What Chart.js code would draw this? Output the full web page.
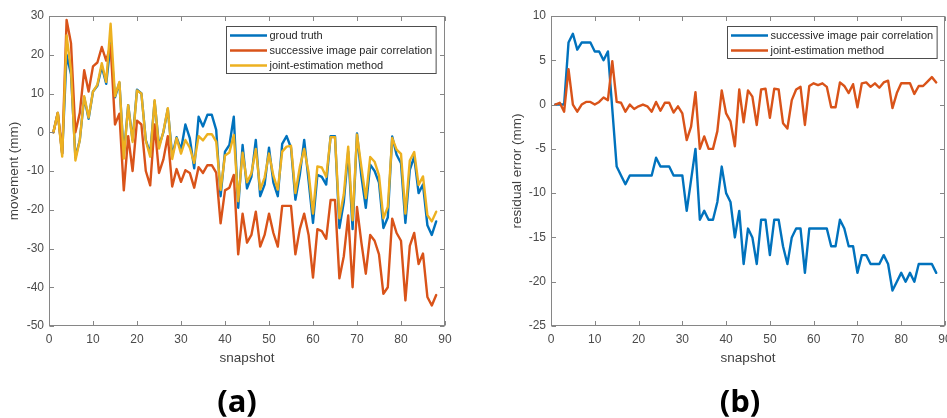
<!DOCTYPE html>
<html>
<head>
<meta charset="utf-8">
<script src="https://cdn.jsdelivr.net/npm/chart.js@4.4.1/dist/chart.umd.min.js"></script>
<style>
  html, body { margin: 0; padding: 0; background: #fff; }
  #page { position: relative; width: 947px; height: 418px; overflow: hidden; background: #fff; }
  canvas { position: absolute; top: 0; }
  #panelA { left: 0; }
  #panelB { left: 474px; }
  .tag { position: absolute; top: 385px; font: bold 31px "Open Sans", sans-serif; line-height: 31px;
         color: #000; transform: translateX(-50%); white-space: nowrap; }
</style>
</head>
<body>
<div id="page">
  <canvas id="panelA" width="474" height="418"></canvas>
  <canvas id="panelB" width="473" height="418"></canvas>
  <div class="tag" style="left:237px">(a)</div>
  <div class="tag" style="left:740px">(b)</div>
</div>
<script>
// Snapshot index shared by every series
const snapshots = [
  1, 2, 3, 4, 5, 6, 7, 8, 9, 10, 11, 12, 13, 14, 15, 16, 17, 18, 19, 20,
  21, 22, 23, 24, 25, 26, 27, 28, 29, 30, 31, 32, 33, 34, 35, 36, 37, 38, 39, 40,
  41, 42, 43, 44, 45, 46, 47, 48, 49, 50, 51, 52, 53, 54, 55, 56, 57, 58, 59, 60,
  61, 62, 63, 64, 65, 66, 67, 68, 69, 70, 71, 72, 73, 74, 75, 76, 77, 78, 79, 80,
  81, 82, 83, 84, 85, 86, 87, 88
];

// (a) movement in mm
const groundTruth = [
  0, 5, -5.5, 20, 15, -6.5, -2, 9, 3.5, 10.5,
  12, 17, 12.5, 23, 9, 12.8, -6, 7, -2, 11,
  10, -2, -5.5, 8, -3.5, 0, 6, -6, -1.3, -4.5,
  2, -1.5, -9.3, 4, 1.5, 4.5, 4.5, 0.6, -16.5, -5,
  -3.3, 4, -19.5, -3.3, -14.5, -11.5, -2, -16.5, -13.5, -4,
  -13, -16.5, -3, -1, -4, -17.4, -11, -2, -12.5, -23.4,
  -11, -11.5, -13.5, -1, -1, -24.7, -18, -5, -25, -0.3,
  -11.4, -19.5, -8.4, -10, -13, -24.7, -22, -1.1, -5.8, -8,
  -23.4, -9.7, -6.3, -15.7, -13.5, -24, -26.5, -23
];
const successivePair = [
  0, 5, -5.5, 29, 23, 0, 5, 16, 10.5, 17,
  18, 22, 18.5, 22.5, 2, 4.8, -15, -1, -10, 3,
  2, -10, -13.7, 2, -10.5, -7, -1, -14, -9.5, -12.8,
  -9.8, -10.5, -14.3, -9, -10.5, -8.5, -8.5, -10.4, -23.5, -15,
  -14.3, -11, -31.5, -21, -28.5, -26.5, -20.5, -29.5, -26.5, -21,
  -26, -29.5, -19, -19, -19, -31.5, -25, -21, -26.5, -37.5,
  -25, -25.5, -27.5, -17.5, -17.5, -37.7, -32, -21.5, -40, -19.3,
  -28.5, -36.5, -26.5, -28, -31.5, -41.7, -40, -22.3, -26, -28,
  -43.4, -29.3, -26, -34, -31.3, -42.5, -44.7, -42
];
const jointEstimation = [
  0, 5, -6.3, 25, 16, -7.3, -2, 9.3, 3.8, 10.5,
  12.3, 17.8, 13, 28, 9.3, 13, -6.8, 7, -2.5, 10.8,
  10, -2.2, -6.3, 8.3, -4.2, 0.2, 6.2, -6.9, -1.5, -5.5,
  -2, -4, -7.9, -1, -2.1, -0.5, -0.5, -2.4, -14.9, -6,
  -5.2, -0.7, -17.8, -5.3, -12.9, -10.6, -4.3, -14.8, -11.7, -5.5,
  -11.2, -14.8, -5, -3.7, -3.5, -15.7, -9, -4.3, -10.4, -21,
  -8.8, -9.1, -11.5, -1.3, -1.3, -22.2, -16, -3.7, -22.7, -0.6,
  -9, -17, -6.4, -7.6, -11.1, -22.2, -19.3, -1.5, -4.5, -5.6,
  -21, -7.3, -5.1, -13.6, -11.4, -21.4, -23, -20.5
];

// (b) residual error in mm
const residualSuccessive = [
  0, 0, 0, 7, 8, 6.2, 7, 7, 7, 6,
  6, 5, 6, -0.5, -7, -8, -9, -8, -8, -8,
  -8, -8, -8, -6, -7, -7, -7, -8, -8, -8,
  -12, -8.5, -5, -13, -12, -13, -13, -11, -7, -10,
  -11, -15, -12, -18, -14, -15, -18, -13, -13, -17,
  -13, -13, -16, -18, -15, -14, -14, -19, -14, -14,
  -14, -14, -14, -16, -16, -13, -14, -16, -16, -19,
  -17, -17, -18, -18, -18, -17, -18, -21, -20, -19,
  -20, -19, -20, -18, -18, -18, -18, -19
];
const residualJoint = [
  0, 0.2, -0.8, 4, 0, -0.8, 0, 0.3, 0.3, 0,
  0.3, 0.8, 0.5, 4.9, 0.3, 0.2, -0.8, 0, -0.5, -0.2,
  0, -0.2, -0.8, 0.3, -0.7, 0.2, 0.2, -0.9, -0.2, -1,
  -4, -2.5, 1.4, -5, -3.6, -5, -5, -3, 1.6, -1,
  -1.9, -4.7, 1.7, -2, 1.6, 0.9, -2.3, 1.7, 1.8, -1.5,
  1.8, 1.7, -2.1, -2.7, 0.5, 1.7, 2, -2.3, 2.1, 2.4,
  2.2, 2.4, 2, -0.3, -0.3, 2.5, 2.1, 1.3, 2.3, -0.3,
  2.4, 2.5, 2, 2.4, 1.9, 2.5, 2.7, -0.4, 1.3, 2.4,
  2.4, 2.4, 1.2, 2.1, 2.1, 2.6, 3.1, 2.5
];

// Tick values
const snapshotTicks = [0, 10, 20, 30, 40, 50, 60, 70, 80, 90];
const movementTicks = [-50, -40, -30, -20, -10, 0, 10, 20, 30];
const residualTicks = [-25, -20, -15, -10, -5, 0, 5, 10];

const BLUE = '#0072BD', ORANGE = '#D95319', YELLOW = '#EDB120';
const FONT = '"Liberation Sans", Arial, sans-serif';
const TICK_COLOR = '#4a4a4a';
const AXIS_COLOR = '#868686';

// Axes box with inward tick marks on all four sides
const framePlugin = {
  id: 'frame',
  afterDraw(chart) {
    const { ctx, chartArea: a, scales: { x, y } } = chart;
    const L = 4.5;
    ctx.save();
    ctx.strokeStyle = AXIS_COLOR;
    ctx.lineWidth = 1;
    const l = Math.round(a.left) + 0.5, r = Math.round(a.right) - 0.5;
    const t = Math.round(a.top) + 0.5, b = Math.round(a.bottom) - 0.5;
    ctx.strokeRect(l, t, r - l, b - t);
    ctx.beginPath();
    x.ticks.forEach(tk => {
      const px = Math.round(x.getPixelForValue(tk.value)) + 0.5;
      ctx.moveTo(px, b); ctx.lineTo(px, b - L);
      ctx.moveTo(px, t); ctx.lineTo(px, t + L);
    });
    y.ticks.forEach(tk => {
      const py = Math.round(y.getPixelForValue(tk.value)) + 0.5;
      ctx.moveTo(l, py); ctx.lineTo(l + L, py);
      ctx.moveTo(r, py); ctx.lineTo(r - L, py);
    });
    ctx.stroke();
    ctx.restore();
  }
};

// Boxed legend inside the plot area, top right
const boxLegend = {
  id: 'boxLegend',
  afterDraw(chart, args, opts) {
    const { ctx, chartArea: a } = chart;
    const sets = chart.data.datasets;
    ctx.save();
    ctx.font = '11px ' + FONT;
    const textW = Math.max(...sets.map(d => ctx.measureText(d.label).width));
    const w = 3.5 + 37 + 2.5 + textW + 4;
    const h = sets.length * 15 + 2;
    const x0 = Math.round(a.right - opts.right - w) + 0.5;
    const y0 = Math.round(a.top + opts.top) + 0.5;
    ctx.fillStyle = '#fff';
    ctx.fillRect(x0, y0, w, h);
    ctx.strokeStyle = '#4d4d4d';
    ctx.lineWidth = 1;
    ctx.strokeRect(x0, y0, w, h);
    sets.forEach((d, i) => {
      const cy = y0 + 9 + i * 15;
      ctx.strokeStyle = d.borderColor;
      ctx.lineWidth = 2.4;
      ctx.beginPath();
      ctx.moveTo(x0 + 3.5, cy);
      ctx.lineTo(x0 + 40.5, cy);
      ctx.stroke();
      ctx.fillStyle = '#262626';
      ctx.textBaseline = 'middle';
      ctx.textAlign = 'left';
      ctx.fillText(d.label, x0 + 43, cy);
    });
    ctx.restore();
  }
};

function fixedTicks(values) {
  return scale => { scale.ticks = values.map(v => ({ value: v })); };
}

function makePanel(id, cfg) {
  const n = cfg.series.length;
  return new Chart(document.getElementById(id), {
    type: 'line',
    data: {
      datasets: cfg.series.map((s, i) => ({
        label: s.label,
        data: snapshots.map((sn, k) => ({ x: sn, y: s.values[k] })),
        borderColor: s.color,
        backgroundColor: s.color,
        borderWidth: 2.4,
        borderJoinStyle: 'round',
        borderCapStyle: 'round',
        pointRadius: 0,
        tension: 0,
        fill: false,
        order: n - 1 - i
      }))
    },
    options: {
      responsive: false,
      animation: false,
      devicePixelRatio: 1,
      layout: { padding: cfg.padding },
      plugins: {
        legend: { display: false },
        tooltip: { enabled: false },
        boxLegend: cfg.legend
      },
      scales: {
        x: {
          type: 'linear',
          min: snapshotTicks[0],
          max: snapshotTicks[snapshotTicks.length - 1],
          afterBuildTicks: fixedTicks(snapshotTicks),
          afterFit: s => { s.height = 44; s.paddingLeft = 0; s.paddingRight = 0; },
          grid: { display: false, drawTicks: false },
          border: { display: false },
          ticks: { padding: 6, color: TICK_COLOR, font: { family: FONT, size: 12 },
                   maxRotation: 0, autoSkip: false, callback: v => String(v) },
          title: { display: true, text: 'snapshot', color: '#404040',
                   font: { family: FONT, size: 13.5 }, padding: { top: 0, bottom: 4 } }
        },
        y: {
          type: 'linear',
          min: cfg.yTicks[0],
          max: cfg.yTicks[cfg.yTicks.length - 1],
          afterBuildTicks: fixedTicks(cfg.yTicks),
          afterFit: s => { s.width = cfg.yWidth; s.paddingTop = 0; s.paddingBottom = 0; },
          grid: { display: false, drawTicks: false },
          border: { display: false },
          ticks: { padding: 5, color: TICK_COLOR, font: { family: FONT, size: 12 },
                   autoSkip: false, callback: v => String(v) },
          title: { display: true, text: cfg.yTitle, color: '#404040',
                   font: { family: FONT, size: 13.5 }, padding: { top: 4, bottom: 0 } }
        }
      }
    },
    plugins: [framePlugin, boxLegend]
  });
}

makePanel('panelA', {
  series: [
    { label: 'groud truth', values: groundTruth, color: BLUE },
    { label: 'successive image pair correlation', values: successivePair, color: ORANGE },
    { label: 'joint-estimation method', values: jointEstimation, color: YELLOW }
  ],
  yTicks: movementTicks,
  yTitle: 'movement (mm)',
  yWidth: 47,
  padding: { left: 2, top: 16, right: 29, bottom: 48 },
  legend: { right: 9, top: 10 }
});

makePanel('panelB', {
  series: [
    { label: 'successive image pair correlation', values: residualSuccessive, color: BLUE },
    { label: 'joint-estimation method', values: residualJoint, color: ORANGE }
  ],
  yTicks: residualTicks,
  yTitle: 'residual error (mm)',
  yWidth: 46,
  padding: { left: 31, top: 16, right: 2, bottom: 48 },
  legend: { right: 8, top: 10 }
});
</script>
</body>
</html>
